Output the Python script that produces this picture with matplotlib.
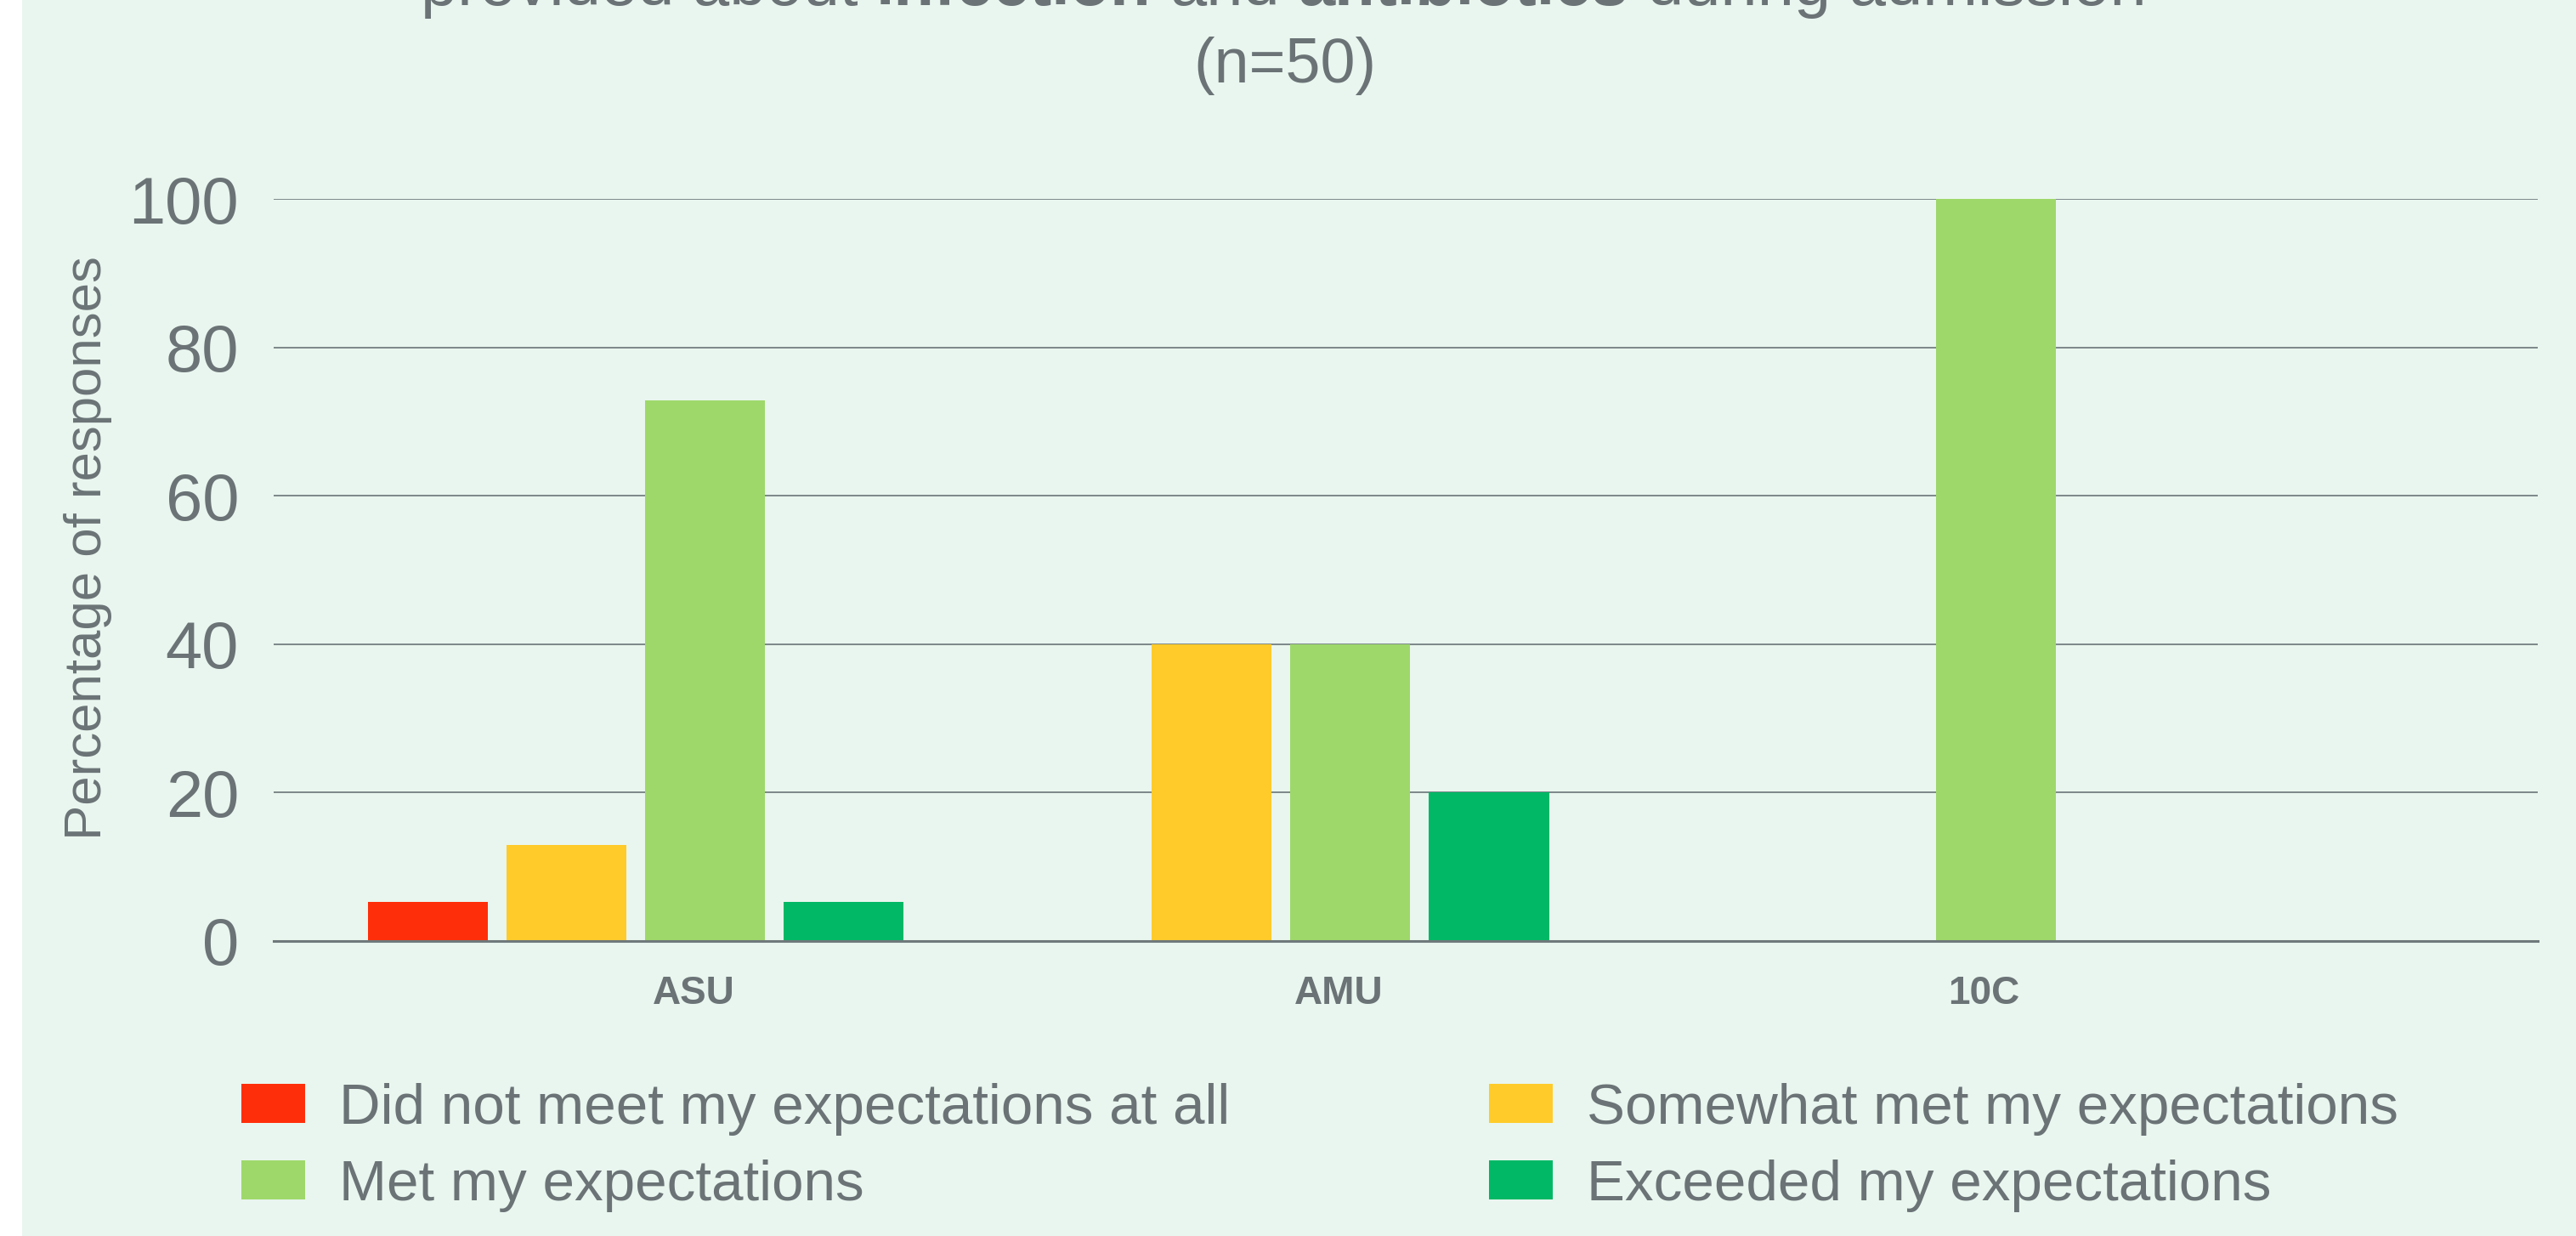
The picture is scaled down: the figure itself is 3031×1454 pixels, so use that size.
import numpy as np
import matplotlib.pyplot as plt
from matplotlib.patches import Rectangle

#######################################
# DATA
#######################################
wards = ["ASU", "AMU", "10C"]
series = ["Did not meet my expectations at all",
          "Somewhat met my expectations",
          "Met my expectations",
          "Exceeded my expectations"]
did_not_meet = [5.3, 0, 0]
somewhat_met = [13.0, 40, 0]
met = [72.9, 40, 100]
exceeded = [5.3, 20, 0]
values = [did_not_meet, somewhat_met, met, exceeded]

colors = ["#FF2E0A", "#FFCB2A", "#9ED86A", "#00B865"]
bg = "#E9F6EF"
grey = "#6B7376"
FONT = ["Liberation Sans", "DejaVu Sans"]

#######################################
# FIGURE
#######################################
W, H = 3031, 1454
fig = plt.figure(figsize=(W / 100, H / 100), dpi=100)
fig.patch.set_facecolor("white")
fig.patches.append(Rectangle((26 / W, 0), 1, 1, transform=fig.transFigure,
                             facecolor=bg, edgecolor="none", zorder=-10))

ax = fig.add_axes([322 / W, 1 - 1107 / H, (2986 - 322) / W, (1107 - 234) / H])
ax.set_facecolor("none")

x = np.arange(len(wards))
pitch = 0.2148
width = 0.1858
group_shift = -0.0896
for i, (name, vals) in enumerate(zip(series, values)):
    offs = group_shift + (i - 1.5) * pitch
    ax.bar(x + offs, vals, width, color=colors[i], label=name, zorder=3)

ax.set_xlim(-0.651, 2.858)
ax.set_ylim(0, 100)
ax.set_yticks(np.arange(0, 101, 20))
ax.set_xticks(x)
ax.set_xticklabels(wards, fontsize=33, fontweight="bold", color=grey, family=FONT)
for lab in ax.get_yticklabels():
    lab.set_fontsize(56)
    lab.set_color(grey)
    lab.set_family(FONT)
ax.tick_params(axis="x", length=0, pad=29)
ax.tick_params(axis="y", length=0, pad=29.5)

ax.grid(axis="y", color="#7D8789", linewidth=1.4, zorder=0)
ax.set_axisbelow(True)
for s in ["top", "right", "left"]:
    ax.spines[s].set_visible(False)
ax.spines["bottom"].set_color("#6F797B")
ax.spines["bottom"].set_linewidth(2.2)
ax.spines["bottom"].set_zorder(4)

fig.text(104 / W, 1 - 645 / H, "Percentage of responses", rotation=90,
         ha="center", va="center", fontsize=44.5, color=grey, family=FONT)

#######################################
# TITLE (second line of a clipped title, with bold words)
#######################################
renderer = fig.canvas.get_renderer()
title_size = 56


def text_width(s, weight):
    t = fig.text(0, 0, s, fontsize=title_size, fontweight=weight, family=FONT)
    bb = t.get_window_extent(renderer)
    t.remove()
    return bb.width


space = text_width("a a", "normal") - text_width("aa", "normal")
pieces = [("provided about", "normal"), ("infection", "bold"), ("and", "normal"),
          ("antibiotics", "bold"), ("during admission", "normal")]
widths = [text_width(p, wt) for p, wt in pieces]
total = sum(widths) + space * (len(pieces) - 1)
cx = 1510
xpos = cx - total / 2
for (p, wt), wd in zip(pieces, widths):
    fig.text(xpos / W, 1 - 6 / H, p, fontsize=title_size, fontweight=wt,
             color=grey, family=FONT, ha="left", va="baseline")
    xpos += wd + space

fig.text(1512 / W, 1 - 97 / H, "(n=50)", fontsize=53, color=grey,
         family=FONT, ha="center", va="baseline")

#######################################
# LEGEND
#######################################
handles, labels = ax.get_legend_handles_labels()
order = [0, 2, 1, 3]
fs = 48.5
fs_px = fs * 100 / 72
fig.legend([handles[i] for i in order], [labels[i] for i in order],
           loc="upper left", bbox_to_anchor=(284 / W, 1 - 1274 / H), ncol=2,
           frameon=False, labelcolor=grey, prop={"family": FONT, "size": fs},
           handlelength=75 / fs_px, handleheight=45 / fs_px,
           handletextpad=40 / fs_px, columnspacing=305 / fs_px,
           labelspacing=0.41, borderpad=0, borderaxespad=0)

plt.savefig("out.png", dpi=100, facecolor=fig.get_facecolor())
